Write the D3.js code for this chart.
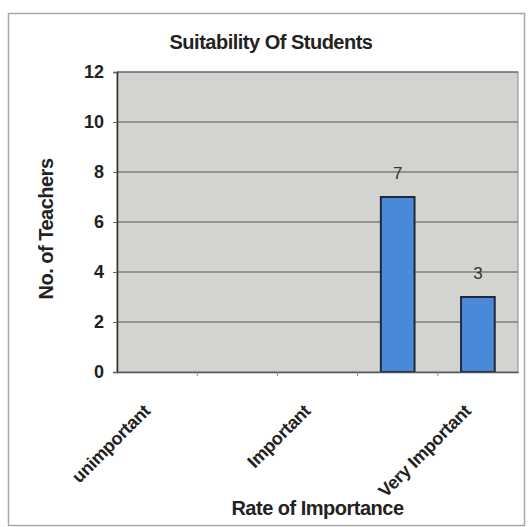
<!DOCTYPE html>
<html><head><meta charset="utf-8">
<script src="https://cdn.jsdelivr.net/npm/d3@7"></script>
<style>body{margin:0;background:#fff}svg{display:block}text{font-family:"Liberation Sans",Arial,sans-serif}</style>
</head><body><svg id="c" width="528" height="527"></svg>
<script>
const categories = ["unimportant", "Less Important", "Important", "Quite Important", "Very Important"];
const values = [0, 0, 0, 7, 3];
const shownLabels = ["unimportant", "Important", "Very Important"];
const yTicks = [0, 2, 4, 6, 8, 10, 12];

const svg = d3.select("#c");
const m = {left: 117, right: 518, top: 72, bottom: 372};
const x = d3.scaleBand().domain(categories).range([m.left, m.right]).paddingInner(0).paddingOuter(0);
const y = d3.scaleLinear().domain([0, 12]).range([m.bottom, m.top]);
const FF = "'Liberation Sans',Arial,sans-serif";

// outer frame
svg.append("rect").attr("x", 8.5).attr("y", 13.5).attr("width", 516).attr("height", 512)
  .attr("fill", "#fff").attr("stroke", "#a8a8a8").attr("stroke-width", 1.5);

// plot area
svg.append("rect").attr("x", m.left).attr("y", m.top).attr("width", m.right - m.left).attr("height", m.bottom - m.top)
  .attr("fill", "#d3d3cf").attr("stroke", "#8a8a8a").attr("stroke-width", 1);

// gridlines
svg.append("g").selectAll("line").data(yTicks.slice(1)).join("line")
  .attr("x1", m.left).attr("x2", m.right).attr("y1", d => y(d)).attr("y2", d => y(d))
  .attr("stroke", "#555").attr("stroke-width", 1);

// bars
const bw = x.bandwidth() * 0.42;
const barData = categories.map((c, i) => ({c, v: values[i]})).filter(d => d.v > 0);
svg.append("g").selectAll("rect").data(barData).join("rect")
  .attr("x", d => x(d.c) + (x.bandwidth() - bw) / 2).attr("width", bw)
  .attr("y", d => y(d.v)).attr("height", d => y(0) - y(d.v))
  .attr("fill", "#4a89da").attr("stroke", "#1c2a3a").attr("stroke-width", 2);

// data labels
svg.append("g").selectAll("text").data(barData).join("text")
  .attr("x", d => x(d.c) + x.bandwidth() / 2).attr("y", d => y(d.v) - 18)
  .attr("text-anchor", "middle").attr("font-size", 17).attr("fill", "#333").text(d => d.v);

// y axis
const ya = svg.append("g").attr("transform", `translate(${m.left},0)`)
  .call(d3.axisLeft(y).tickValues(yTicks).tickSize(4).tickPadding(9));
ya.select(".domain").attr("stroke", "#333").attr("stroke-width", 1.5);
ya.selectAll(".tick line").attr("stroke", "#666");
ya.selectAll(".tick text").attr("font-size", 18).attr("font-weight", "bold").attr("fill", "#222").attr("font-family", FF);

// x axis
const xa = svg.append("g").attr("transform", `translate(0,${m.bottom})`)
  .call(d3.axisBottom(x).tickSize(0).tickFormat(d => shownLabels.includes(d) ? d : ""));
xa.select(".domain").attr("stroke", "#555").attr("stroke-width", 1.5);
xa.selectAll(".tick text").attr("font-size", 18).attr("font-weight", "bold").attr("fill", "#222")
  .attr("font-family", FF).attr("letter-spacing", "-0.3")
  .attr("text-anchor", "end").attr("dy", 0)
  .attr("transform", "translate(-8,38) rotate(-45)");
// category boundary ticks
svg.append("g").selectAll("line").data(categories.slice(1)).join("line")
  .attr("x1", d => x(d)).attr("x2", d => x(d)).attr("y1", m.bottom).attr("y2", m.bottom + 4)
  .attr("stroke", "#888");

// titles
svg.append("text").attr("x", 271).attr("y", 49).attr("text-anchor", "middle")
  .attr("font-size", 20).attr("font-weight", "bold").attr("letter-spacing", "-0.5").attr("fill", "#222").text("Suitability Of Students");
svg.append("text").attr("transform", "translate(53,229) rotate(-90)").attr("text-anchor", "middle")
  .attr("font-size", 20).attr("font-weight", "bold").attr("letter-spacing", "-0.5").attr("fill", "#222").text("No. of Teachers");
svg.append("text").attr("x", (m.left + m.right) / 2).attr("y", 515).attr("text-anchor", "middle")
  .attr("font-size", 20).attr("font-weight", "bold").attr("letter-spacing", "-0.5").attr("fill", "#222").text("Rate of Importance");
</script></body></html>
